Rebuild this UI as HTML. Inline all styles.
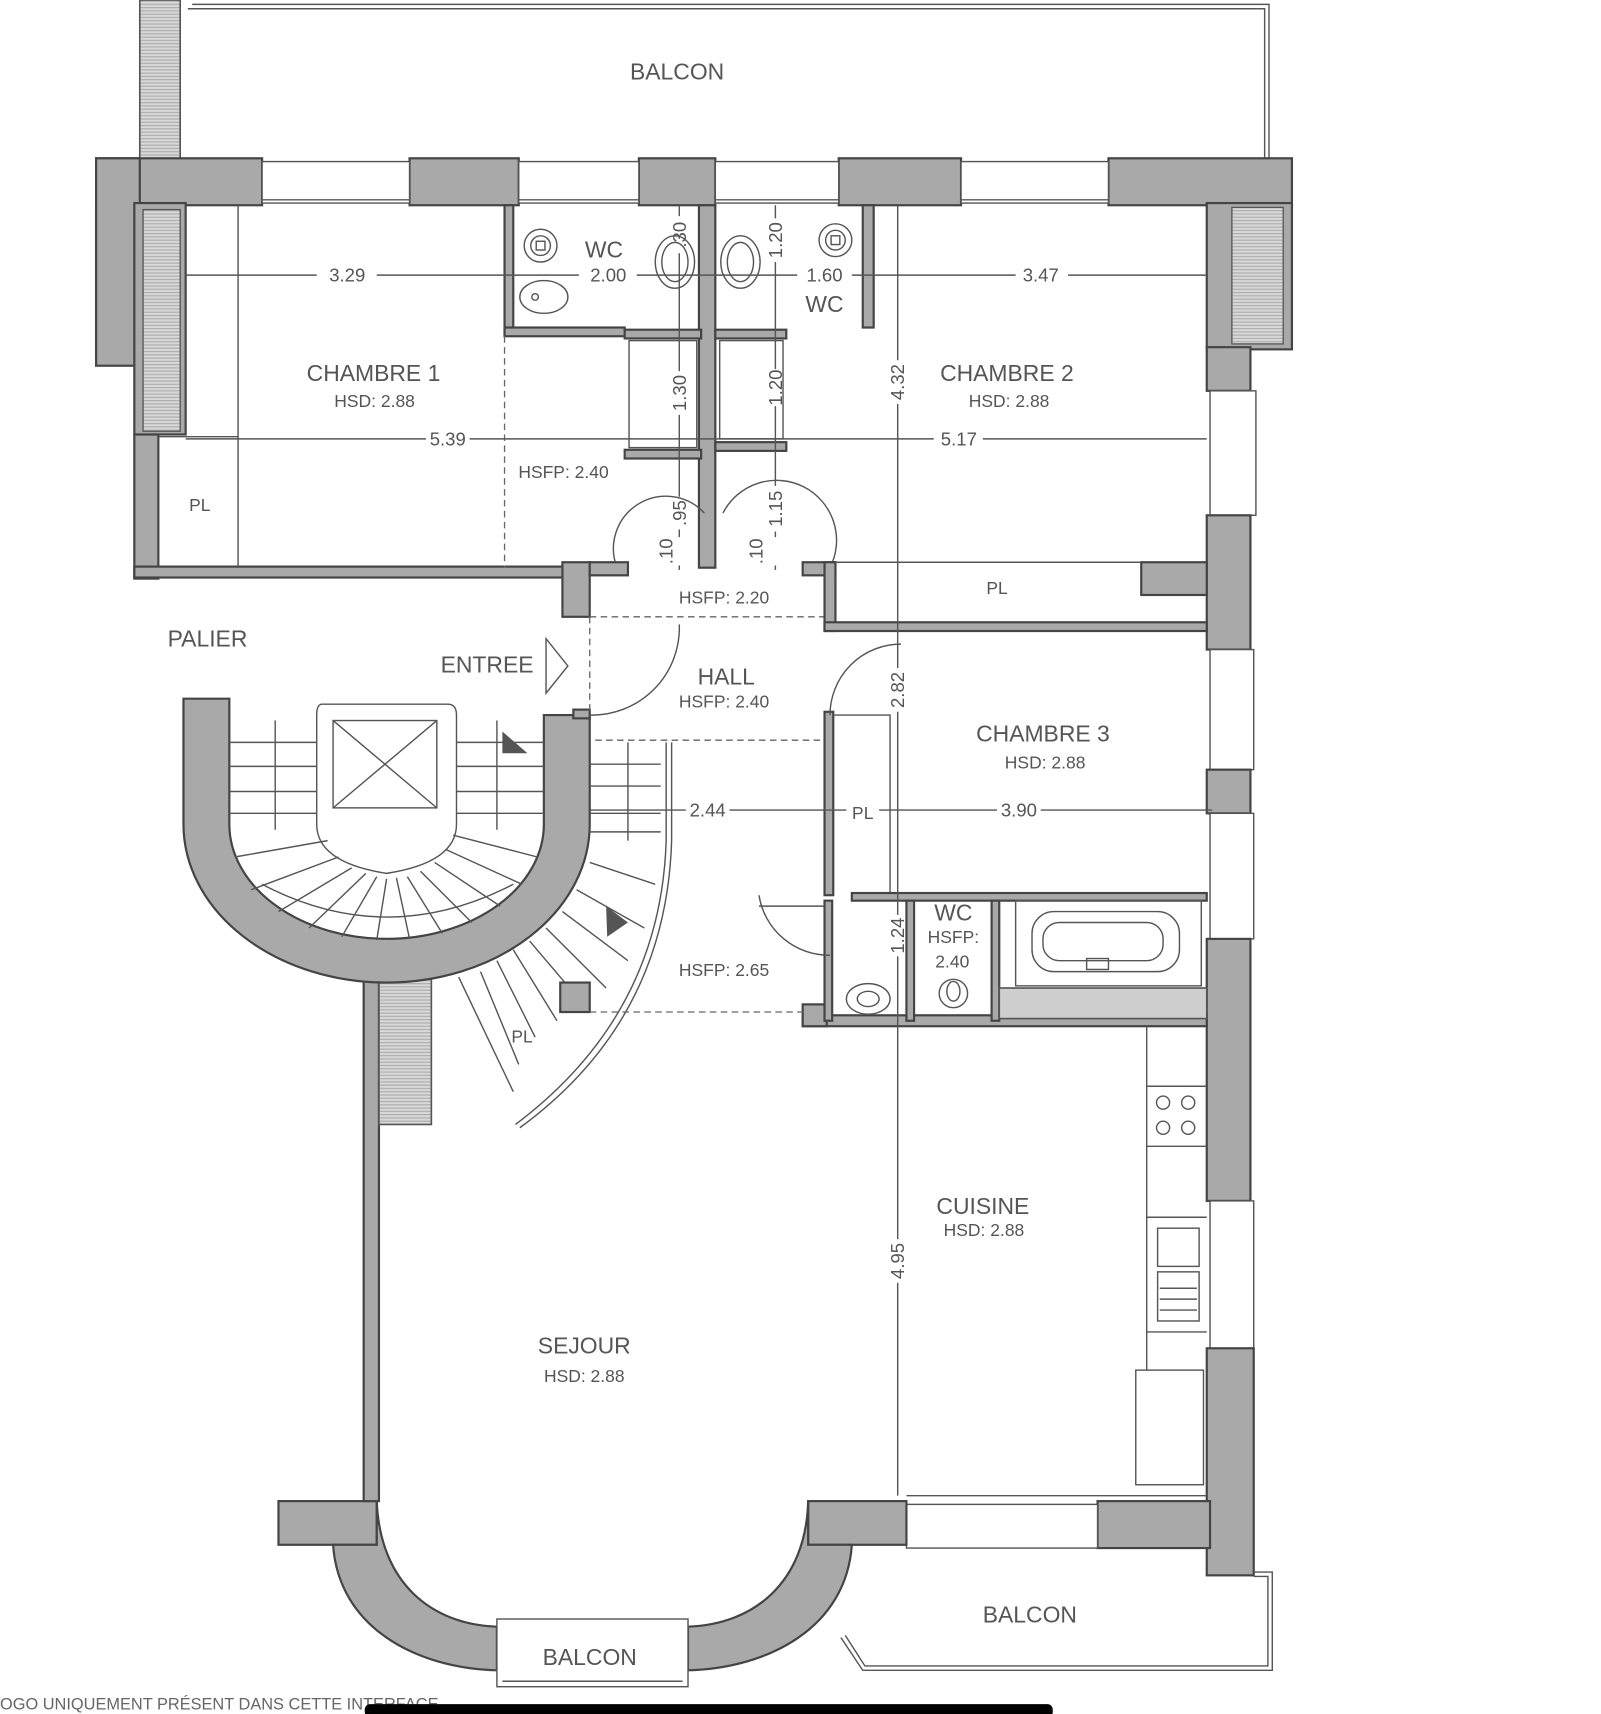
<!DOCTYPE html>
<html><head><meta charset="utf-8"><style>
html,body{margin:0;padding:0;background:#fff;}
svg{display:block;}
text{font-family:"Liberation Sans",sans-serif;fill:#555;}
.w{fill:#a9a9a9;stroke:#444;stroke-width:2;}
.t{fill:none;stroke:#555;stroke-width:1.3;}
.d{fill:none;stroke:#666;stroke-width:1.2;stroke-dasharray:6 4;}
.h{fill:#cfcfcf;stroke:#555;stroke-width:1.5;}
.win{fill:#fff;stroke:#555;stroke-width:1.3;}
.r{font-size:21px;text-anchor:middle;}
.s{font-size:16px;text-anchor:middle;}
.m{font-size:17px;text-anchor:middle;}
</style></head><body>
<svg width="1601" height="1714" viewBox="0 0 1466 1570" preserveAspectRatio="none" xmlns="http://www.w3.org/2000/svg">
<defs>
<pattern id="hp" width="4" height="3" patternUnits="userSpaceOnUse"><rect width="4" height="3" fill="#d8d8d8"/><line x1="0" y1="1" x2="4" y2="1" stroke="#aaa" stroke-width="1"/></pattern>
</defs>
<!-- top balcony -->
<path class="t" d="M172,8 H1158 V145 M176,4 H1162 V145"/>
<rect x="128" y="0" width="37" height="145" fill="url(#hp)" stroke="#555" stroke-width="1.5"/>
<text class="r" x="620" y="73">BALCON</text>

<!-- top wall -->
<rect class="w" x="88" y="145" width="152" height="43"/>
<rect class="w" x="375" y="145" width="100" height="43"/>
<rect class="w" x="585" y="145" width="70" height="43"/>
<rect class="w" x="768" y="145" width="112" height="43"/>
<rect class="w" x="1015" y="145" width="168" height="43"/>
<rect class="win" x="240" y="148" width="135" height="38"/><line class="t" x1="240" y1="183" x2="375" y2="183"/>
<rect class="win" x="475" y="148" width="110" height="38"/><line class="t" x1="475" y1="183" x2="585" y2="183"/>
<rect class="win" x="655" y="148" width="113" height="38"/><line class="t" x1="655" y1="183" x2="768" y2="183"/>
<rect class="win" x="880" y="148" width="135" height="38"/><line class="t" x1="880" y1="183" x2="1015" y2="183"/>

<!-- left walls chambre 1 -->
<rect class="w" x="88" y="145" width="40" height="190"/>
<rect class="w" x="123" y="186" width="47" height="212"/>
<rect x="131" y="192" width="34" height="203" fill="url(#hp)" stroke="#555" stroke-width="1.2"/>
<rect class="w" x="123" y="398" width="22" height="132"/>
<rect class="w" x="123" y="519" width="397" height="10"/>
<path class="t" d="M218,188 V520 M145,400 H218"/>
<text class="s" x="183" y="468">PL</text>

<!-- right walls -->
<rect class="w" x="1105" y="186" width="78" height="134"/>
<rect class="w" x="1105" y="318" width="40" height="40"/>
<rect x="1128" y="190" width="47" height="125" fill="url(#hp)" stroke="#555" stroke-width="1.2"/>
<rect class="win" x="1108" y="358" width="42" height="114"/>
<rect class="w" x="1105" y="472" width="40" height="123"/>
<rect class="w" x="1045" y="515" width="60" height="30"/>
<rect class="win" x="1108" y="595" width="40" height="110"/>
<rect class="w" x="1105" y="705" width="40" height="40"/>
<rect class="win" x="1108" y="745" width="40" height="115"/>
<rect class="w" x="1105" y="860" width="40" height="240"/>
<rect class="win" x="1108" y="1100" width="40" height="135"/>
<rect class="w" x="1105" y="1235" width="43" height="208"/>
<rect class="w" x="1005" y="1375" width="103" height="43"/>

<!-- bottom right balcony -->
<rect class="win" x="830" y="1378" width="175" height="40"/>
<rect class="w" x="740" y="1375" width="90" height="40"/>
<path class="t" d="M1148,1440 H1165 V1530 H790 L770,1500 M1148,1444 H1161 V1526 H792 L774,1498"/>
<text class="r" x="943" y="1486">BALCON</text>

<!-- bay -->
<rect class="w" x="255" y="1375" width="90" height="40"/>
<path class="w" d="M305,1415 C310,1490 380,1528 455,1530 L455,1490 C395,1488 348,1450 345,1375 L345,1415 Z"/>
<path class="w" d="M780,1415 C775,1490 705,1528 630,1530 L630,1490 C690,1488 738,1450 740,1375 L740,1415 Z"/>
<rect class="win" x="455" y="1483" width="175" height="62"/>
<path class="t" d="M460,1540 H625"/>
<text class="r" x="540" y="1525">BALCON</text>
<text x="0" y="1566" style="font-size:15px;fill:#666">OGO UNIQUEMENT PRÉSENT DANS CETTE INTERFACE</text>
<rect x="334" y="1561" width="630" height="12" rx="5" fill="#000"/>

<!-- sejour left wall -->
<rect class="w" x="333" y="895" width="14" height="480"/>
<rect x="347" y="895" width="48" height="135" fill="url(#hp)" stroke="#555" stroke-width="1.5"/>

<!-- staircase U -->
<path class="w" d="M168,640 H210 V755 A144,105 0 0 0 498,755 V655 H540 V755 A186,145 0 0 1 168,755 Z"/>
<path class="t" d="M295,645 H410 Q418,645 418,655 V755 Q418,790 354,800 Q290,790 290,755 V655 Q290,645 295,645 Z"/>
<rect class="t" x="305" y="660" width="95" height="80"/>
<path class="t" d="M305,660 L400,740 M400,660 L305,740"/>
<path class="t" d="M210,680 H290 M210,702 H290 M210,725 H290 M210,745 H290 M418,680 H498 M418,702 H498 M418,725 H498 M418,745 H498 M252,660 V760 M455,660 V760"/>
<path class="t" d="M215,785 L300,770 M230,815 L310,785 M255,835 L322,795 M283,850 L335,800 M313,858 L345,803 M345,861 L354,805 M375,860 L363,804 M405,855 L373,803 M432,845 L385,798 M458,830 L398,790 M478,810 L408,778 M492,785 L415,765"/>
<path class="t" d="M240,810 Q354,870 470,810"/>
<path d="M460,670 L483,690 L460,690 Z" fill="#555"/>
<path class="t" d="M540,700 H605 M540,720 H605 M540,745 H605 M540,762 H605 M575,680 V770"/>
<path class="t" d="M540,790 L600,810 M528,815 L590,850 M515,835 L575,880 M500,850 L555,905 M485,862 L530,915 M470,870 L510,935 M455,880 L490,950 M440,890 L475,975 M420,895 L470,1000"/>
<path d="M555,830 L575,845 L556,858 Z" fill="#555"/>
<path class="t" d="M610,680 V770 Q605,930 472,1030 M615,680 V770 Q610,935 476,1033"/>
<path class="d" d="M545,678 H755"/>
<rect class="w" x="513" y="900" width="27" height="27"/>
<text class="s" x="478" y="955">PL</text>

<!-- entrance -->
<rect class="w" x="515" y="515" width="25" height="50"/>
<rect class="w" x="525" y="650" width="15" height="8"/>
<text class="r" x="446" y="616">ENTREE</text>
<path class="t" d="M500,585 L520,610 L500,635 Z"/>
<text class="r" x="190" y="592">PALIER</text>
<path class="t" d="M540,655 A80,80 0 0 0 622,572"/>
<path class="d" d="M540,565 H755 M540,565 V655"/>

<!-- WCs top -->
<rect class="w" x="462" y="188" width="8" height="118"/>
<rect class="w" x="462" y="300" width="110" height="8"/>
<rect class="w" x="640" y="188" width="15" height="332"/>
<rect class="w" x="790" y="188" width="10" height="112"/>
<rect class="w" x="572" y="302" width="70" height="8"/>
<rect class="w" x="572" y="412" width="70" height="8"/>
<rect class="w" x="655" y="302" width="65" height="8"/>
<rect class="w" x="655" y="405" width="65" height="8"/>
<rect class="t" x="576" y="312" width="62" height="98"/>
<rect class="t" x="659" y="312" width="58" height="90"/>
<circle class="t" cx="495" cy="225" r="15"/><circle class="t" cx="495" cy="225" r="9"/><rect class="t" x="491" y="221" width="8" height="8"/>
<ellipse class="t" cx="498" cy="272" rx="22" ry="15"/><circle class="t" cx="490" cy="272" r="3"/>
<circle class="t" cx="765" cy="220" r="15"/><circle class="t" cx="765" cy="220" r="9"/><rect class="t" x="761" y="216" width="8" height="8"/>
<ellipse class="t" cx="618" cy="240" rx="18" ry="24"/><ellipse class="t" cx="618" cy="240" rx="12" ry="18"/>
<ellipse class="t" cx="678" cy="240" rx="18" ry="24"/><ellipse class="t" cx="678" cy="240" rx="12" ry="18"/>
<path class="d" d="M462,308 V520"/>
<text class="r" x="553" y="236">WC</text>
<text class="r" x="755" y="286">WC</text>
<text class="s" x="516" y="438">HSFP: 2.40</text>
<path class="t" d="M565,520 A48,48 0 0 1 645,470 M760,520 A48,48 0 0 0 662,470"/>

<!-- hall corridor -->
<rect class="w" x="540" y="515" width="35" height="12"/>
<rect class="w" x="735" y="515" width="30" height="12"/>
<rect class="w" x="755" y="515" width="10" height="63"/>
<rect class="w" x="755" y="570" width="350" height="8"/>
<path class="t" d="M765,515 H1045"/>
<text class="s" x="913" y="544">PL</text>
<text class="s" x="663" y="553">HSFP: 2.20</text>
<text class="r" x="665" y="627">HALL</text>
<text class="s" x="663" y="648">HSFP: 2.40</text>

<!-- chambre 3 / PL -->
<rect class="w" x="755" y="652" width="8" height="168"/>
<path class="t" d="M763,655 H815 V820"/>
<path class="t" d="M760,655 A65,65 0 0 1 825,590"/>
<text class="s" x="790" y="750">PL</text>
<text class="r" x="955" y="679">CHAMBRE 3</text>
<text class="s" x="957" y="704">HSD: 2.88</text>

<!-- bathroom / wc -->
<rect class="w" x="780" y="818" width="325" height="7"/>
<rect class="w" x="735" y="930" width="370" height="10"/>
<rect class="w" x="735" y="920" width="22" height="20"/>
<rect class="w" x="755" y="825" width="7" height="110"/>
<rect class="w" x="830" y="825" width="7" height="110"/>
<rect class="w" x="908" y="825" width="7" height="110"/>
<rect class="h" x="915" y="905" width="190" height="28"/>
<rect class="t" x="930" y="825" width="170" height="78"/>
<rect class="t" x="945" y="835" width="135" height="55" rx="20"/>
<rect class="t" x="955" y="845" width="110" height="35" rx="15"/>
<rect class="t" x="995" y="878" width="20" height="10"/>
<circle class="t" cx="873" cy="910" r="13"/><ellipse class="t" cx="873" cy="908" rx="6" ry="9"/>
<ellipse class="t" cx="795" cy="915" rx="20" ry="14"/><ellipse class="t" cx="795" cy="915" rx="10" ry="7"/>
<path class="t" d="M760,875 A65,65 0 0 1 695,820 M695,830 H755"/>
<text class="r" x="873" y="843">WC</text>
<text class="s" x="873" y="864">HSFP:</text>
<text class="s" x="872" y="886">2.40</text>
<text class="s" x="663" y="894">HSFP: 2.65</text>
<path class="d" d="M540,927 H735"/>

<!-- kitchen -->
<path class="t" d="M1050,940 V1255 M1050,995 H1105 M1050,1050 H1105 M1050,1115 H1105 M1050,1220 H1105"/>
<circle class="t" cx="1065" cy="1010" r="6"/><circle class="t" cx="1088" cy="1010" r="6"/><circle class="t" cx="1065" cy="1033" r="6"/><circle class="t" cx="1088" cy="1033" r="6"/>
<rect class="t" x="1060" y="1125" width="38" height="35"/><rect class="t" x="1060" y="1165" width="38" height="45"/>
<path class="t" d="M1062,1180 H1096 M1062,1190 H1096 M1062,1200 H1096"/>
<rect class="t" x="1040" y="1255" width="62" height="105"/>
<path class="t" d="M830,1370 H1105"/>
<text class="r" x="900" y="1112">CUISINE</text>
<text class="s" x="901" y="1132">HSD: 2.88</text>
<text class="r" x="535" y="1240">SEJOUR</text>
<text class="s" x="535" y="1266">HSD: 2.88</text>

<!-- dimension lines -->
<path class="t" d="M170,252 H290 M345,252 H530 M583,252 H730 M780,252 H930 M978,252 H1105"/>
<path class="t" d="M170,402 H390 M430,402 H855 M900,402 H1105"/>
<path class="t" d="M540,742 H628 M668,742 H775 M805,742 H913 M953,742 H1110"/>
<path class="t" d="M822,188 V330 M822,370 V612 M822,652 V838 M822,876 V1135 M822,1175 V1370"/>
<path class="t" d="M622,188 V198 M622,232 V340 M622,380 V455 M622,485 V492 M622,518 V522"/>
<path class="t" d="M710,188 V200 M710,240 V338 M710,372 V445 M710,487 V492 M710,518 V522"/>
<text class="m" x="318" y="258">3.29</text>
<text class="m" x="557" y="258">2.00</text>
<text class="m" x="755" y="258">1.60</text>
<text class="m" x="953" y="258">3.47</text>
<text class="m" x="410" y="408">5.39</text>
<text class="m" x="878" y="408">5.17</text>
<text class="m" x="648" y="748">2.44</text>
<text class="m" x="933" y="748">3.90</text>
<g class="m">
<text class="m" transform="translate(828,350) rotate(-90)">4.32</text>
<text class="m" transform="translate(828,632) rotate(-90)">2.82</text>
<text class="m" transform="translate(828,857) rotate(-90)">1.24</text>
<text class="m" transform="translate(828,1155) rotate(-90)">4.95</text>
<text class="m" transform="translate(628,215) rotate(-90)">.30</text>
<text class="m" transform="translate(716,220) rotate(-90)">1.20</text>
<text class="m" transform="translate(628,360) rotate(-90)">1.30</text>
<text class="m" transform="translate(716,355) rotate(-90)">1.20</text>
<text class="m" transform="translate(628,470) rotate(-90)">.95</text>
<text class="m" transform="translate(716,466) rotate(-90)">1.15</text>
<text class="m" transform="translate(616,505) rotate(-90)">.10</text>
<text class="m" transform="translate(698,505) rotate(-90)">.10</text>
</g>

<text class="r" x="342" y="349">CHAMBRE 1</text>
<text class="s" x="343" y="373">HSD: 2.88</text>
<text class="r" x="922" y="349">CHAMBRE 2</text>
<text class="s" x="924" y="373">HSD: 2.88</text>
</svg>
</body></html>
